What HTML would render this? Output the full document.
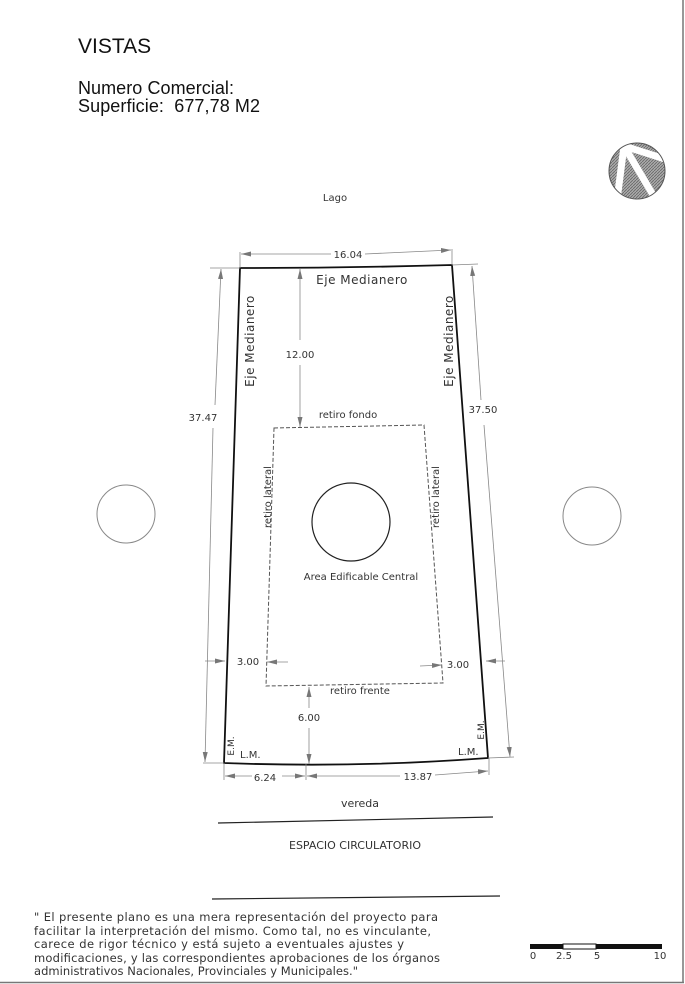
<!DOCTYPE html>
<html><head><meta charset="utf-8"><style>
html,body{margin:0;padding:0;background:#fff;}
svg{display:block;}
text{font-family:"DejaVu Sans","Liberation Sans",sans-serif;fill:#333;}
.h{font-family:"Liberation Sans",Arial,sans-serif;fill:#111;}
</style></head><body>
<svg width="685" height="984" viewBox="0 0 685 984" xmlns="http://www.w3.org/2000/svg">
<defs>
<marker id="a" markerWidth="10" markerHeight="6" refX="10" refY="3" orient="auto" markerUnits="userSpaceOnUse"><path d="M0,0.5 L10,3 L0,5.5 z" fill="#777"/></marker>
<pattern id="hat" width="3" height="3" patternUnits="userSpaceOnUse"><rect width="3" height="3" fill="#aaa"/><path d="M0,3 L3,0" stroke="#666" stroke-width="0.8"/></pattern>
<clipPath id="cc"><circle cx="637" cy="171" r="28"/></clipPath>
</defs>
<rect x="0" y="0" width="685" height="984" fill="#fff"/>
<line x1="683" y1="0" x2="683" y2="983" stroke="#777" stroke-width="1.5"/>
<line x1="0" y1="982.5" x2="684" y2="982.5" stroke="#777" stroke-width="1.5"/>

<text class="h" x="78" y="53" font-size="21">VISTAS</text>
<text class="h" x="78" y="94" font-size="18" textLength="156">Numero Comercial:</text>
<text class="h" x="78" y="112" font-size="18" textLength="182" xml:space="preserve">Superficie:  677,78 M2</text>

<!-- north arrow -->
<circle cx="637" cy="171" r="28" fill="url(#hat)"/>
<g clip-path="url(#cc)" stroke="#fff" stroke-width="7" stroke-linecap="butt">
<line x1="624" y1="146" x2="668" y2="160"/>
<line x1="624" y1="146" x2="617" y2="200"/>
<line x1="624" y1="146" x2="656" y2="200"/>
</g>
<circle cx="637" cy="171" r="28" fill="none" stroke="#555" stroke-width="1"/>

<text x="335" y="201" font-size="10" text-anchor="middle">Lago</text>

<!-- lot -->
<path d="M240,268 Q346,268 452,265 L488,758 Q356,768 224,763 Z" fill="none" stroke="#111" stroke-width="1.8"/>
<path d="M274,428 L424,425 L443,683 L266,686 Z" fill="none" stroke="#555" stroke-width="1" stroke-dasharray="4,2"/>
<circle cx="351" cy="522" r="39" fill="none" stroke="#222" stroke-width="1.2"/>
<circle cx="126" cy="514" r="29" fill="none" stroke="#888" stroke-width="1"/>
<circle cx="592" cy="516" r="29" fill="none" stroke="#888" stroke-width="1"/>

<g stroke="#888" stroke-width="0.8" fill="none">
<line x1="240" y1="252" x2="240" y2="268"/><line x1="452" y1="249" x2="452" y2="265"/>
<line x1="331" y1="254" x2="241" y2="254" marker-end="url(#a)"/>
<line x1="365" y1="254" x2="451" y2="250" marker-end="url(#a)"/>
<line x1="210" y1="268" x2="240" y2="268"/><line x1="203" y1="763" x2="224" y2="763"/>
<line x1="215" y1="405" x2="221" y2="269" marker-end="url(#a)"/>
<line x1="213" y1="428" x2="205" y2="762" marker-end="url(#a)"/>
<line x1="452" y1="265" x2="478" y2="264"/><line x1="488" y1="758" x2="514" y2="757"/>
<line x1="481" y1="400" x2="472" y2="266" marker-end="url(#a)"/>
<line x1="484" y1="425" x2="510" y2="757" marker-end="url(#a)"/>
<line x1="300" y1="340" x2="300" y2="269" marker-end="url(#a)"/>
<line x1="300" y1="365" x2="300" y2="427" marker-end="url(#a)"/>
<line x1="309" y1="708" x2="309" y2="687" marker-end="url(#a)"/>
<line x1="309" y1="728" x2="309" y2="764" marker-end="url(#a)"/>
<line x1="224" y1="763" x2="224" y2="780"/><line x1="306" y1="764" x2="306" y2="780"/><line x1="489" y1="758" x2="489" y2="775"/>
<line x1="252" y1="776" x2="225" y2="776" marker-end="url(#a)"/>
<line x1="282" y1="776" x2="305" y2="776" marker-end="url(#a)"/>
<line x1="400" y1="776" x2="307" y2="776" marker-end="url(#a)"/>
<line x1="435" y1="775" x2="488" y2="771" marker-end="url(#a)"/>
<line x1="205" y1="661" x2="225" y2="661" marker-end="url(#a)"/>
<line x1="288" y1="662" x2="267" y2="662" marker-end="url(#a)"/>
<line x1="420" y1="666" x2="442" y2="665" marker-end="url(#a)"/>
<line x1="505" y1="661" x2="486" y2="661" marker-end="url(#a)"/>
</g>

<g font-size="10">
<text x="348" y="258" text-anchor="middle">16.04</text>
<text x="203" y="421" text-anchor="middle">37.47</text>
<text x="483" y="413" text-anchor="middle">37.50</text>
<text x="300" y="358" text-anchor="middle">12.00</text>
<text x="309" y="721" text-anchor="middle">6.00</text>
<text x="265" y="781" text-anchor="middle">6.24</text>
<text x="418" y="780" text-anchor="middle">13.87</text>
<text x="248" y="665" text-anchor="middle">3.00</text>
<text x="458" y="668" text-anchor="middle">3.00</text>
<text x="348" y="418" text-anchor="middle">retiro  fondo</text>
<text x="360" y="694" text-anchor="middle">retiro  frente</text>
<text x="361" y="580" text-anchor="middle">Area  Edificable  Central</text>
<text transform="translate(271,497) rotate(-90)" text-anchor="middle">retiro  lateral</text>
<text transform="translate(439,497) rotate(-90)" text-anchor="middle">retiro  lateral</text>
<text x="240" y="758">L.M.</text>
<text x="458" y="755">L.M.</text>
<text transform="translate(234,746) rotate(-90)" text-anchor="middle" font-size="9">E.M.</text>
<text transform="translate(484,730) rotate(-90)" text-anchor="middle" font-size="9">E.M.</text>
</g>
<g font-size="12">
<text x="362" y="284" text-anchor="middle" letter-spacing="0.5">Eje  Medianero</text>
<text transform="translate(254,341) rotate(-90)" text-anchor="middle" letter-spacing="0.5">Eje  Medianero</text>
<text transform="translate(453,341) rotate(-90)" text-anchor="middle" letter-spacing="0.5">Eje  Medianero</text>
<text x="360" y="807" text-anchor="middle" font-size="11">vereda</text>
<text x="355" y="849" text-anchor="middle" font-size="11">ESPACIO  CIRCULATORIO</text>
</g>
<line x1="218" y1="823" x2="493" y2="817" stroke="#222" stroke-width="1.2"/>
<line x1="212" y1="899" x2="500" y2="896" stroke="#222" stroke-width="1.2"/>

<g font-size="11.5">
<text x="34" y="921" textLength="404">" El presente plano es una mera representación del proyecto para</text>
<text x="34" y="935" textLength="397">facilitar la interpretación del mismo. Como tal, no es vinculante,</text>
<text x="34" y="948" textLength="370">carece de rigor técnico y está sujeto a eventuales ajustes y</text>
<text x="34" y="962" textLength="406">modificaciones, y las correspondientes aprobaciones de los órganos</text>
<text x="34" y="975" textLength="324">administrativos Nacionales, Provinciales y Municipales."</text>
</g>

<rect x="530" y="944" width="33" height="5" fill="#111"/>
<rect x="563" y="944" width="33" height="5" fill="#fff" stroke="#111" stroke-width="1"/>
<rect x="596" y="944" width="66" height="5" fill="#111"/>
<g font-size="10" fill="#444">
<text x="533" y="959" text-anchor="middle">0</text>
<text x="564" y="959" text-anchor="middle">2.5</text>
<text x="597" y="959" text-anchor="middle">5</text>
<text x="660" y="959" text-anchor="middle">10</text>
</g>
</svg>
</body></html>
